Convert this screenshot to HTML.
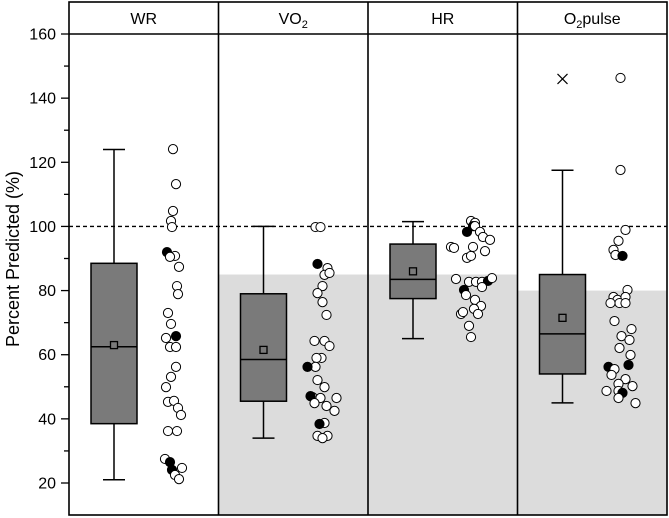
<!DOCTYPE html>
<html><head><meta charset="utf-8"><style>
body{margin:0;background:#fff;}
svg{display:block;font-family:"Liberation Sans",Arial,sans-serif;}
</style></head><body>
<svg id="chart" width="669" height="518" viewBox="0 0 669 518"></svg>
<script>
const panels=["WR","VO2","HR","O2pulse"];
const shadeFrom=[null,85,85,80];
const whiskerHigh=[124,100,101.5,117.5];
const q3=[88.5,79,94.5,85];
const median=[62.5,58.5,83.5,66.5];
const mean=[63,61.5,86,71.5];
const q1=[38.5,45.5,77.5,54];
const whiskerLow=[21,34,65,45];
const outliers=[null,null,null,146];
const yTicks=[20,40,60,80,100,120,140,160];
const wrVals=[124.1,113.2,104.8,101.7,99.8,92.0,90.8,90.5,87.4,81.4,78.9,73.0,69.6,65.2,65.8,62.4,62.4,56.2,53.1,49.9,45.3,45.6,43.4,41.2,36.2,36.2,27.5,26.5,24.1,24.7,22.5,21.2];
const wrFill=[0,0,0,0,0,1,0,0,0,0,0,0,0,0,1,0,0,0,0,0,0,0,0,0,0,0,0,1,1,0,0,0];
const wrJit=[1,4,1,-1,0,-5,3,-2,7,5,6,-4,-1,-6,4,-2,4,4,-1,-6,-4,2,6,9,-4,5,-7,-2,0,10,3,7];
const vo2Vals=[99.8,99.8,88.3,87.0,84.9,85.5,81.4,79.2,76.4,72.4,64.3,64.3,62.7,59.0,59.0,56.2,56.2,52.1,49.9,46.8,46.5,47.1,46.5,44.9,44.0,42.5,38.7,38.4,34.7,34.7,34.0];
const vo2Fill=[0,0,1,0,0,0,0,0,0,0,0,0,0,0,0,0,1,0,0,0,0,1,0,0,0,0,0,1,0,0,0];
const vo2Jit=[-6,-1,-4,6,3,8,1,-4,1,5,-7,3,8,0,-5,-6,-14,-4,3,-9,-1,-11,15,-7,5,13,3,-2,-4,6,1];
const hrVals=[101.7,101.1,98.3,100.1,100.1,98.3,96.7,95.8,93.6,93.3,93.6,92.3,90.2,90.8,83.6,82.7,82.7,82.7,83.0,83.9,81.1,80.2,78.6,77.1,75.2,74.3,72.7,73.3,72.7,69.0,65.5];
const hrFill=[0,0,1,1,0,0,0,0,0,0,0,0,0,0,0,0,0,0,1,0,0,1,0,0,0,0,0,0,0,0,0];
const hrJit=[0,4,-4,2,4,9,12,19,-20,-17,2,14,-4,0,-15,-2,5,11,17,21,11,-7,-5,4,10,3,-10,-8,7,-2,0];
const o2Vals=[146.3,117.6,98.9,95.5,92.7,91.1,90.8,80.2,78.0,77.1,78.0,76.1,76.1,76.1,70.5,68.0,65.8,64.6,62.1,59.9,56.2,55.5,53.7,56.8,52.4,50.9,50.2,48.7,48.7,48.1,46.5,44.9];
const o2Fill=[0,0,0,0,0,0,1,0,0,0,0,0,0,0,0,0,0,0,0,0,1,0,0,1,0,0,0,0,0,1,0,0];
const o2Jit=[0,0,5,-2,-7,-5,2,7,-7,-3,5,-1,-10,5,-6,11,1,9,-1,10,-12,-6,-9,8,5,-2,12,-14,-2,2,-2,15];
const dotVals=[wrVals,vo2Vals,hrVals,o2Vals];
const dotFill=[wrFill,vo2Fill,hrFill,o2Fill];
const dotJit=[wrJit,vo2Jit,hrJit,o2Jit];

const L=69,R=667,T=2,HB=34,B=515;
const pw=(R-L)/4;
const y=v=>34+(160-v)*(483-34)/140;
const px=i=>L+i*pw;
const boxC=i=>px(i)+45;
const dotC=i=>px(i)+103;
const svg=document.getElementById('chart');
const NS='http://www.w3.org/2000/svg';
function mk(tag,attrs,parent){const e=document.createElementNS(NS,tag);for(const k in attrs)e.setAttribute(k,attrs[k]);(parent||svg).appendChild(e);return e;}

panels.forEach((p,i)=>{
  if(shadeFrom[i]==null)return;
  const r=mk('rect',{x:px(i),y:y(shadeFrom[i]),width:pw,height:B-y(shadeFrom[i]),fill:'#dcdcdc'});
  
  
});
const dl=mk('line',{x1:L,x2:R,y1:y(100),y2:y(100),stroke:'#000','stroke-width':1.3,'stroke-dasharray':'4,3'});



panels.forEach((p,i)=>{
  const g=mk('g',{});
  
  
  const c=boxC(i),hw=23;
  mk('line',{x1:c,x2:c,y1:y(whiskerHigh[i]),y2:y(q3[i]),stroke:'#000','stroke-width':1.5},g);
  mk('line',{x1:c,x2:c,y1:y(q1[i]),y2:y(whiskerLow[i]),stroke:'#000','stroke-width':1.5},g);
  mk('line',{x1:c-11,x2:c+11,y1:y(whiskerHigh[i]),y2:y(whiskerHigh[i]),stroke:'#000','stroke-width':1.5},g);
  mk('line',{x1:c-11,x2:c+11,y1:y(whiskerLow[i]),y2:y(whiskerLow[i]),stroke:'#000','stroke-width':1.5},g);
  const b=mk('rect',{x:c-hw,y:y(q3[i]),width:2*hw,height:y(q1[i])-y(q3[i]),fill:'#7a7a7a',stroke:'#000','stroke-width':1.5},g);
  
  
  mk('line',{x1:c-hw,x2:c+hw,y1:y(median[i]),y2:y(median[i]),stroke:'#000','stroke-width':1.5},g);
  const m=mk('rect',{x:c-3.5,y:y(mean[i])-3.5,width:7,height:7,fill:'#7a7a7a',stroke:'#000','stroke-width':1.3},g);
  
  
  if(outliers[i]!=null){
    const oy=y(outliers[i]);
    const o=mk('path',{d:`M${c-5} ${oy-5}L${c+5} ${oy+5}M${c+5} ${oy-5}L${c-5} ${oy+5}`,stroke:'#000','stroke-width':1.2},g);
    
    
  }
  dotVals[i].forEach((v,j)=>{
    const d=mk('circle',{cx:dotC(i)+dotJit[i][j],cy:y(v),r:4.6,fill:dotFill[i][j]?'#000':'#fff',stroke:'#000','stroke-width':1},g);
    
    
  });
});

mk('rect',{x:L,y:T,width:R-L,height:B-T,fill:'none',stroke:'#000','stroke-width':1.6});
mk('line',{x1:L,x2:R,y1:HB,y2:HB,stroke:'#000','stroke-width':1.6});
for(let i=1;i<4;i++) mk('line',{x1:px(i),x2:px(i),y1:T,y2:B,stroke:'#000','stroke-width':1.6});
const heads=[['WR',''],['VO','2'],['HR',''],['O','2','pulse']];
heads.forEach((h,i)=>{
  const t=mk('text',{x:px(i)+pw/2,y:24,'font-size':16,'text-anchor':'middle'});
  
  
  const a=document.createElementNS(NS,'tspan');a.textContent=h[0];t.appendChild(a);
  if(h[1]){const s=document.createElementNS(NS,'tspan');s.setAttribute('font-size','11');s.setAttribute('dy','4');s.textContent=h[1];t.appendChild(s);}
  if(h[2]){const s=document.createElementNS(NS,'tspan');s.setAttribute('dy','-4');s.textContent=h[2];t.appendChild(s);}
});
for(let v=20;v<=160;v+=10){
  const major=v%20===0;
  mk('line',{x1:L-(major?8:5),x2:L,y1:y(v),y2:y(v),stroke:'#000','stroke-width':1.3});
}
yTicks.forEach(v=>{
  const t=mk('text',{x:56,y:y(v)+5.5,'font-size':16,'text-anchor':'end'});
  t.textContent=v;
  
  
});
const yt=mk('text',{x:0,y:0,'font-size':18,'text-anchor':'middle',transform:'translate(19,259) rotate(-90)'});
yt.textContent='Percent Predicted (%)';


</script>
</body></html>
